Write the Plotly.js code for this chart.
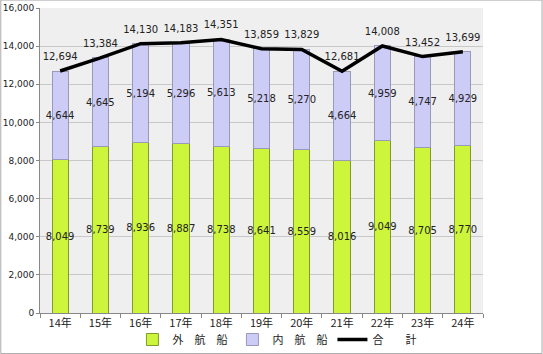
<!DOCTYPE html>
<html><head><meta charset="utf-8">
<script src="https://cdn.plot.ly/plotly-3.0.1.min.js"></script>
<style>html,body{margin:0;padding:0;background:#fff}#c{width:543px;height:354px}</style>
</head><body><div id="c"></div>
<script>
const categories = ['14年','15年','16年','17年','18年','19年','20年','21年','22年','23年','24年'];
const gaikou = [8049, 8739, 8936, 8887, 8738, 8641, 8559, 8016, 9049, 8705, 8770];
const naikou = [4644, 4645, 5194, 5296, 5613, 5218, 5270, 4664, 4959, 4747, 4929];
const total = [12694, 13384, 14130, 14183, 14351, 13859, 13829, 12681, 14008, 13452, 13699];
const seriesNames = ['外　航　船', '内　航　船', '合　　計'];

const fmt = v => v.toLocaleString('en-US');
const numFont = {family: 'DejaVu Sans, sans-serif', size: 10, color: '#222'};

const traces = [
  {type: 'bar', name: seriesNames[0], x: categories, y: gaikou,
   marker: {color: '#ccf53c', line: {color: '#7f9a2a', width: 1}},
   text: gaikou.map(fmt), textposition: 'inside', insidetextanchor: 'middle',
   textangle: 0, constraintext: 'none', textfont: numFont, width: 0.4,
   hoverinfo: 'skip'},
  {type: 'bar', name: seriesNames[1], x: categories, y: naikou,
   marker: {color: '#ccccf7', line: {color: '#9a9ab8', width: 1}},
   text: naikou.map(fmt), textposition: 'inside', insidetextanchor: 'middle',
   textangle: 0, constraintext: 'none', textfont: numFont, width: 0.4,
   hoverinfo: 'skip'},
  {type: 'scatter', mode: 'lines', name: seriesNames[2], x: categories, y: total,
   line: {color: '#000', width: 3.5}, hoverinfo: 'skip'},
  {type: 'scatter', mode: 'markers+text', showlegend: false, x: categories, y: total,
   marker: {size: 12, color: 'rgba(0,0,0,0)'}, text: total.map(fmt),
   textposition: 'top center', textfont: numFont, cliponaxis: false, hoverinfo: 'skip'}
];

const layout = {
  width: 543, height: 354,
  margin: {l: 40, r: 60, t: 8, b: 41},
  barmode: 'stack', bargap: 0.6,
  paper_bgcolor: '#ffffff', plot_bgcolor: '#efefef',
  font: {family: 'Noto Sans CJK JP, sans-serif', size: 10, color: '#222'},
  showlegend: true,
  legend: {orientation: 'h', xref: 'container', yref: 'container', x: 0.51, xanchor: 'center',
           y: -0.012, yanchor: 'bottom', bgcolor: 'rgba(0,0,0,0)',
           font: {family: 'Noto Sans CJK JP, sans-serif', size: 11},
           traceorder: 'normal', itemwidth: 30, tracegroupgap: 0},
  xaxis: {type: 'category', range: [-0.5, categories.length - 0.5], autorange: false,
          showline: true, linecolor: '#888', ticks: 'outside', tickson: 'boundaries',
          ticklen: 4, tickcolor: '#888', showgrid: false,
          tickfont: {family: 'Noto Sans CJK JP, sans-serif', size: 11, color: '#222'}},
  yaxis: {range: [0, 16000], autorange: false, dtick: 2000, tickformat: ',d', showline: true, linecolor: '#888',
          ticks: 'outside', ticklen: 3, tickcolor: '#888', gridcolor: '#c8c8c8',
          zeroline: false, tickfont: {family: 'DejaVu Sans, sans-serif', size: 9, color: '#222'}},
  shapes: [{type: 'rect', xref: 'paper', yref: 'paper', x0: -0.0885, x1: 1.1333, y0: -0.133, y1: 1.026,
            line: {color: '#aaa', width: 1}, fillcolor: 'rgba(0,0,0,0)'}]
};

Plotly.newPlot('c', traces, layout, {displayModeBar: false, staticPlot: true});
</script></body></html>
